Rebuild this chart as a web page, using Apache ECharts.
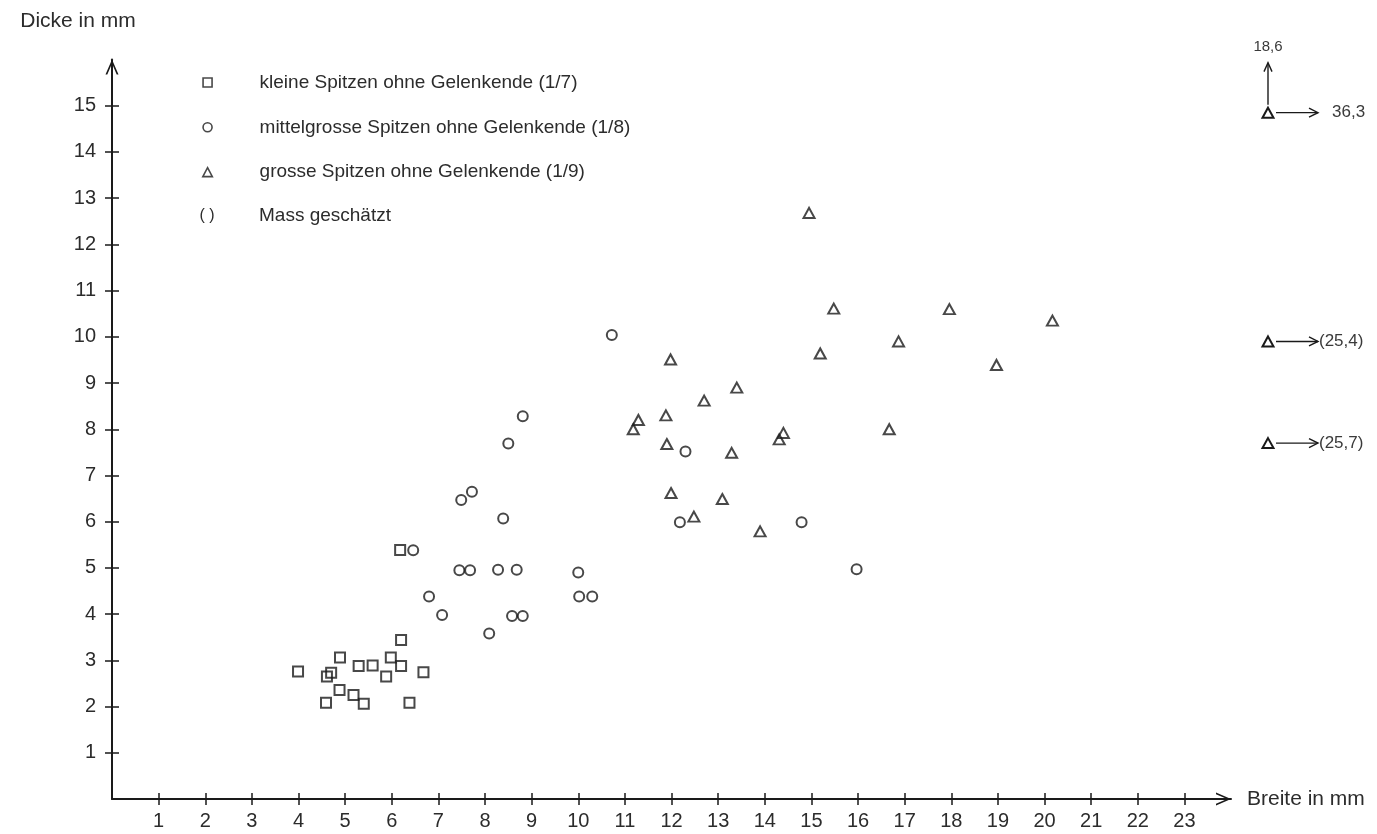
<!DOCTYPE html>
<html>
<head>
<meta charset="utf-8">
<script src="https://cdn.jsdelivr.net/npm/echarts@6/dist/echarts.min.js"></script>
<style>
  html, body { margin: 0; padding: 0; background: #ffffff; }
  #chart { width: 1377px; height: 834px; }
</style>
</head>
<body>
<div id="chart"></div>
<script>
// Breite (x) und Dicke (y) in mm, je Gruppe
const kleineBreite = [6.18, 3.99, 4.89, 4.70, 4.61, 5.29, 5.59, 5.98, 6.20, 5.88, 6.20, 6.68, 4.88, 5.18, 5.40, 4.59, 6.38];
const kleineDicke  = [5.39, 2.76, 3.06, 2.73, 2.65, 2.88, 2.89, 3.06, 2.88, 2.65, 3.44, 2.74, 2.36, 2.25, 2.06, 2.08, 2.08];

const mittelBreite = [10.72, 8.81, 8.50, 7.49, 7.72, 8.39, 6.46, 7.45, 7.68, 8.28, 8.68, 10.00, 6.80, 10.02, 10.30, 7.08, 8.58, 8.81, 8.09, 12.30, 12.18, 14.79, 15.97];
const mittelDicke  = [10.04, 8.28, 7.69, 6.47, 6.65, 6.07, 5.38, 4.95, 4.95, 4.96, 4.96, 4.90, 4.38, 4.38, 4.38, 3.98, 3.96, 3.96, 3.58, 7.52, 5.99, 5.99, 4.97];

const grosseBreite = [14.95, 15.48, 17.96, 20.17, 16.87, 15.19, 18.97, 11.98, 13.40, 12.70, 11.88, 11.29, 11.18, 14.40, 14.31, 16.67, 11.90, 13.29, 11.99, 13.09, 12.48, 13.90];
const grosseDicke  = [12.68, 10.61, 10.60, 10.35, 9.90, 9.64, 9.39, 9.51, 8.90, 8.62, 8.30, 8.20, 8.00, 7.92, 7.78, 8.00, 7.68, 7.49, 6.62, 6.49, 6.11, 5.79];

// Werte ausserhalb der Achsen (am rechten Rand mit Pfeil angegeben)
const ausserBreite     = [36.3, 25.4, 25.7];
const ausserDicke      = [18.6, 9.9, 7.7];
const ausserGeschaetzt = [false, true, true];

const xTicks = [1, 2, 3, 4, 5, 6, 7, 8, 9, 10, 11, 12, 13, 14, 15, 16, 17, 18, 19, 20, 21, 22, 23];
const yTicks = [1, 2, 3, 4, 5, 6, 7, 8, 9, 10, 11, 12, 13, 14, 15];

const gruppen = [
  'kleine Spitzen ohne Gelenkende (1/7)',
  'mittelgrosse Spitzen ohne Gelenkende (1/8)',
  'grosse Spitzen ohne Gelenkende (1/9)'
];

const X_MAX = 24;
const Y_MAX = 16;
const DICKE_KAPPUNG = 14.85;   // Höhe, auf der zu dicke Stücke eingezeichnet werden
const INK = '#1a1a1a';
const TEXT = '#2c2c2c';
const FONT = '"Liberation Sans", Arial, Helvetica, sans-serif';
// offene Pfeilspitze (zeigt nach oben, wird von der Achse gedreht)
const CHEVRON = 'path://M0,15L6.5,0L13,15L11.2,15L6.5,3.9L1.8,15Z';

const zip = (xs, ys) => xs.map((x, i) => [x, ys[i]]);
const fmt = v => v.toFixed(1).replace('.', ',');

const markerStyle = { color: 'rgba(255,255,255,0)', borderColor: INK, borderWidth: 2 };

function mainAxis(isX) {
  const ticks = isX ? xTicks : yTicks;
  const axis = {
    type: 'value',
    min: 0,
    max: isX ? X_MAX : Y_MAX,
    interval: 1,
    position: isX ? 'bottom' : 'left',
    axisLine: {
      show: true, onZero: false,
      lineStyle: { color: INK, width: 2 },
      symbol: ['none', CHEVRON],
      symbolSize: [13, 15],
      symbolOffset: [0, -7.5]
    },
    axisTick: { show: true, inside: false, length: isX ? 6 : 7, lineStyle: { color: INK, width: 1.5 }, customValues: ticks },
    axisLabel: { show: true, margin: isX ? 12 : 16, fontSize: 20, color: TEXT, fontFamily: FONT, customValues: ticks },
    splitLine: { show: false }
  };
  if (isX) {
    axis.name = 'Breite in mm';
    axis.nameLocation = 'end';
    axis.nameGap = 16;
    axis.nameTextStyle = { fontSize: 21, color: TEXT, fontFamily: FONT, align: 'left', verticalAlign: 'middle', padding: [8, 0, 0, 0] };
  } else {
    axis.name = 'Dicke in mm';
    axis.nameLocation = 'end';
    axis.nameGap = 38.5;
    axis.nameTextStyle = { fontSize: 21, color: TEXT, fontFamily: FONT, align: 'center', verticalAlign: 'middle', padding: [0, 68, 0, 0] };
  }
  return axis;
}

// zweite Achse nur für den nach innen reichenden Teil der Striche
function innerTickAxis(isX) {
  return {
    type: 'value',
    min: 0,
    max: isX ? X_MAX : Y_MAX,
    interval: 1,
    position: isX ? 'bottom' : 'left',
    axisLine: { show: false, onZero: false },
    axisTick: { show: true, inside: true, length: isX ? 6 : 7, lineStyle: { color: INK, width: 1.5 }, customValues: isX ? xTicks : yTicks },
    axisLabel: { show: false },
    splitLine: { show: false }
  };
}

function renderAusser(params, api) {
  const breite = api.value(0);
  const dicke = api.value(1);
  const geschaetzt = api.value(2) === 1;
  const p = api.coord([X_MAX, Math.min(dicke, DICKE_KAPPUNG)]);
  const cx = p[0] + 37;
  const cy = p[1];
  const line = { stroke: INK, lineWidth: 1.4, fill: null };
  const label = geschaetzt ? '(' + fmt(breite) + ')' : fmt(breite);
  const children = [
    { type: 'polygon', shape: { points: [[cx, cy - 5], [cx + 5.5, cy + 5], [cx - 5.5, cy + 5]] },
      style: { fill: null, stroke: INK, lineWidth: 2 } },
    { type: 'line', shape: { x1: cx + 8, y1: cy, x2: cx + 50, y2: cy }, style: line },
    { type: 'polyline', shape: { points: [[cx + 41, cy - 4.5], [cx + 50, cy], [cx + 41, cy + 4.5]] }, style: line },
    { type: 'text', x: cx + (geschaetzt ? 51 : 64), y: cy,
      style: { text: label, fill: '#3a3a3a', fontSize: 17, fontFamily: FONT, align: 'left', verticalAlign: 'middle' } }
  ];
  if (dicke > Y_MAX) {
    children.push(
      { type: 'line', shape: { x1: cx, y1: cy - 8, x2: cx, y2: cy - 50 }, style: line },
      { type: 'polyline', shape: { points: [[cx - 4, cy - 41], [cx, cy - 50], [cx + 4, cy - 41]] }, style: line },
      { type: 'text', x: cx, y: cy - 66,
        style: { text: fmt(dicke), fill: '#3a3a3a', fontSize: 15, fontFamily: FONT, align: 'center', verticalAlign: 'middle' } }
    );
  }
  return { type: 'group', children: children };
}

const chart = echarts.init(document.getElementById('chart'), null, { renderer: 'canvas' });

chart.setOption({
  backgroundColor: '#ffffff',
  animation: false,
  textStyle: { fontFamily: FONT },
  grid: { left: 112, right: 146, top: 59.5, bottom: 35, containLabel: false, outerBoundsMode: 'none' },
  xAxis: [mainAxis(true), innerTickAxis(true)],
  yAxis: [mainAxis(false), innerTickAxis(false)],
  legend: {
    orient: 'vertical',
    left: 202,
    top: 73,
    padding: 0,
    itemGap: 25.8,
    itemWidth: 94,
    itemHeight: 9,
    selectedMode: false,
    textStyle: { fontSize: 19, color: TEXT, fontFamily: FONT },
    itemStyle: { color: 'rgba(255,255,255,0)', borderColor: INK, borderWidth: 1.6 },
    data: [
      { name: gruppen[0], icon: 'path://M0,0H9V9H0Z' },
      { name: gruppen[1], icon: 'circle' },
      { name: gruppen[2], icon: 'path://M4.5,0L9,8.5L0,8.5Z' }
    ]
  },
  graphic: [
    { type: 'text', x: 207, y: 216,
      style: { text: '( )', fill: TEXT, fontSize: 16, fontFamily: FONT, align: 'center', verticalAlign: 'middle' } },
    { type: 'text', x: 259, y: 216,
      style: { text: 'Mass geschätzt', fill: TEXT, fontSize: 19, fontFamily: FONT, align: 'left', verticalAlign: 'middle' } }
  ],
  series: [
    { type: 'scatter', name: gruppen[0], symbol: 'rect', symbolSize: 10,
      data: zip(kleineBreite, kleineDicke), itemStyle: markerStyle, emphasis: { disabled: true } },
    { type: 'scatter', name: gruppen[1], symbol: 'circle', symbolSize: 10,
      data: zip(mittelBreite, mittelDicke), itemStyle: markerStyle, emphasis: { disabled: true } },
    { type: 'scatter', name: gruppen[2], symbol: 'triangle', symbolSize: [11, 10],
      data: zip(grosseBreite, grosseDicke), itemStyle: markerStyle, emphasis: { disabled: true } },
    { type: 'custom', name: 'ausserhalb', clip: false, silent: true,
      data: ausserBreite.map((b, i) => [b, ausserDicke[i], ausserGeschaetzt[i] ? 1 : 0]),
      renderItem: renderAusser }
  ]
});
</script>
</body>
</html>
